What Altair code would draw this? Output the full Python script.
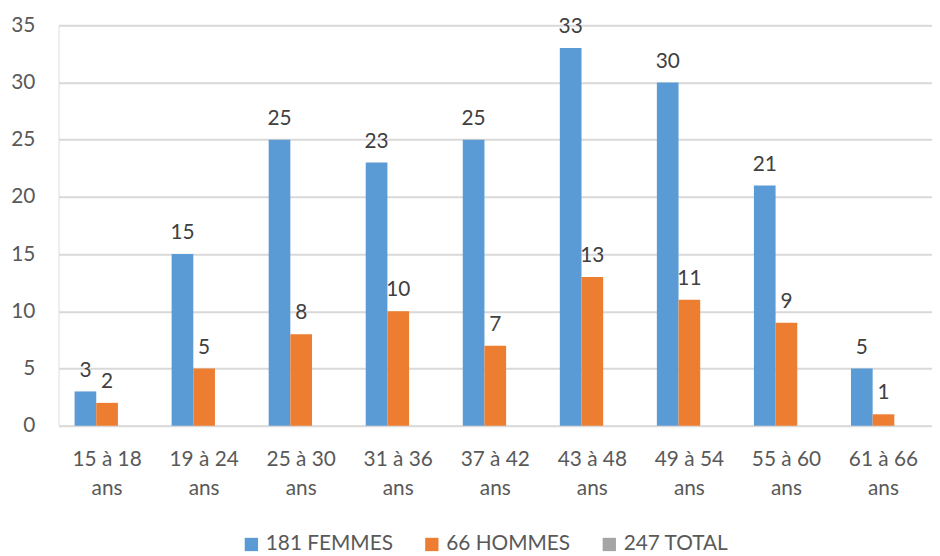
import altair as alt
import pandas as pd

categories = ["15 à 18 ans", "19 à 24 ans", "25 à 30 ans", "31 à 36 ans", "37 à 42 ans",
              "43 à 48 ans", "49 à 54 ans", "55 à 60 ans", "61 à 66 ans"]
femmes = [3, 15, 25, 23, 25, 33, 30, 21, 5]
hommes = [2, 5, 8, 10, 7, 13, 11, 9, 1]
series = ["181 FEMMES", "66 HOMMES", "247 TOTAL"]
colors = ["#5B9BD5", "#ED7D31", "#A5A5A5"]

rows = []
for c, f, h in zip(categories, femmes, hommes):
    rows.append({"cat": c, "serie": series[0], "val": f})
    rows.append({"cat": c, "serie": series[1], "val": h})
df = pd.DataFrame(rows)

FONT = "Lato"
FS = 21

base = alt.Chart(df).encode(
    x=alt.X("cat:N", sort=categories, title=None,
            scale=alt.Scale(paddingInner=0.33, paddingOuter=0.165),
            axis=alt.Axis(labelExpr="[slice(datum.label, 0, -4), 'ans']",
                          labelAngle=0, labelFontSize=FS, labelColor="#595959",
                          labelFont=FONT, labelPadding=34, labelLineHeight=29,
                          labelBaseline="middle",
                          ticks=False, domain=False, grid=False)),
    xOffset=alt.XOffset("serie:N", sort=series, scale=alt.Scale(domain=series)),
)

bars = base.mark_bar().encode(
    y=alt.Y("val:Q", title=None,
            scale=alt.Scale(domain=[0, 35], nice=False),
            axis=alt.Axis(values=list(range(0, 36, 5)), labelFontSize=FS,
                          labelColor="#595959", labelFont=FONT, labelPadding=24,
                          ticks=False, domain=False, gridColor="#D9D9D9",
                          gridWidth=2)),
    color=alt.Color("serie:N", sort=series,
                    scale=alt.Scale(domain=series, range=colors),
                    legend=alt.Legend(title=None, orient="none", direction="horizontal",
                                      legendX=184, legendY=513,
                                      symbolType="square", symbolSize=180,
                                      symbolStrokeWidth=0,
                                      labelFontSize=FS, labelColor="#595959",
                                      labelFont=FONT, columnPadding=28,
                                      labelOffset=4)),
)

labels = base.mark_text(baseline="bottom", dy=-11, fontSize=FS, font=FONT,
                        color="#404040").encode(
    y=alt.Y("val:Q"),
    text=alt.Text("val:Q"),
)

chart = (bars + labels).properties(
    width=881, height=404,
    autosize=alt.AutoSizeParams(type="none"),
    padding={"left": 51, "top": 15, "right": 0, "bottom": 129},
).configure_view(stroke=None).configure(background="white")

chart.save("out.html", embed_options={"renderer": "svg", "actions": False})
